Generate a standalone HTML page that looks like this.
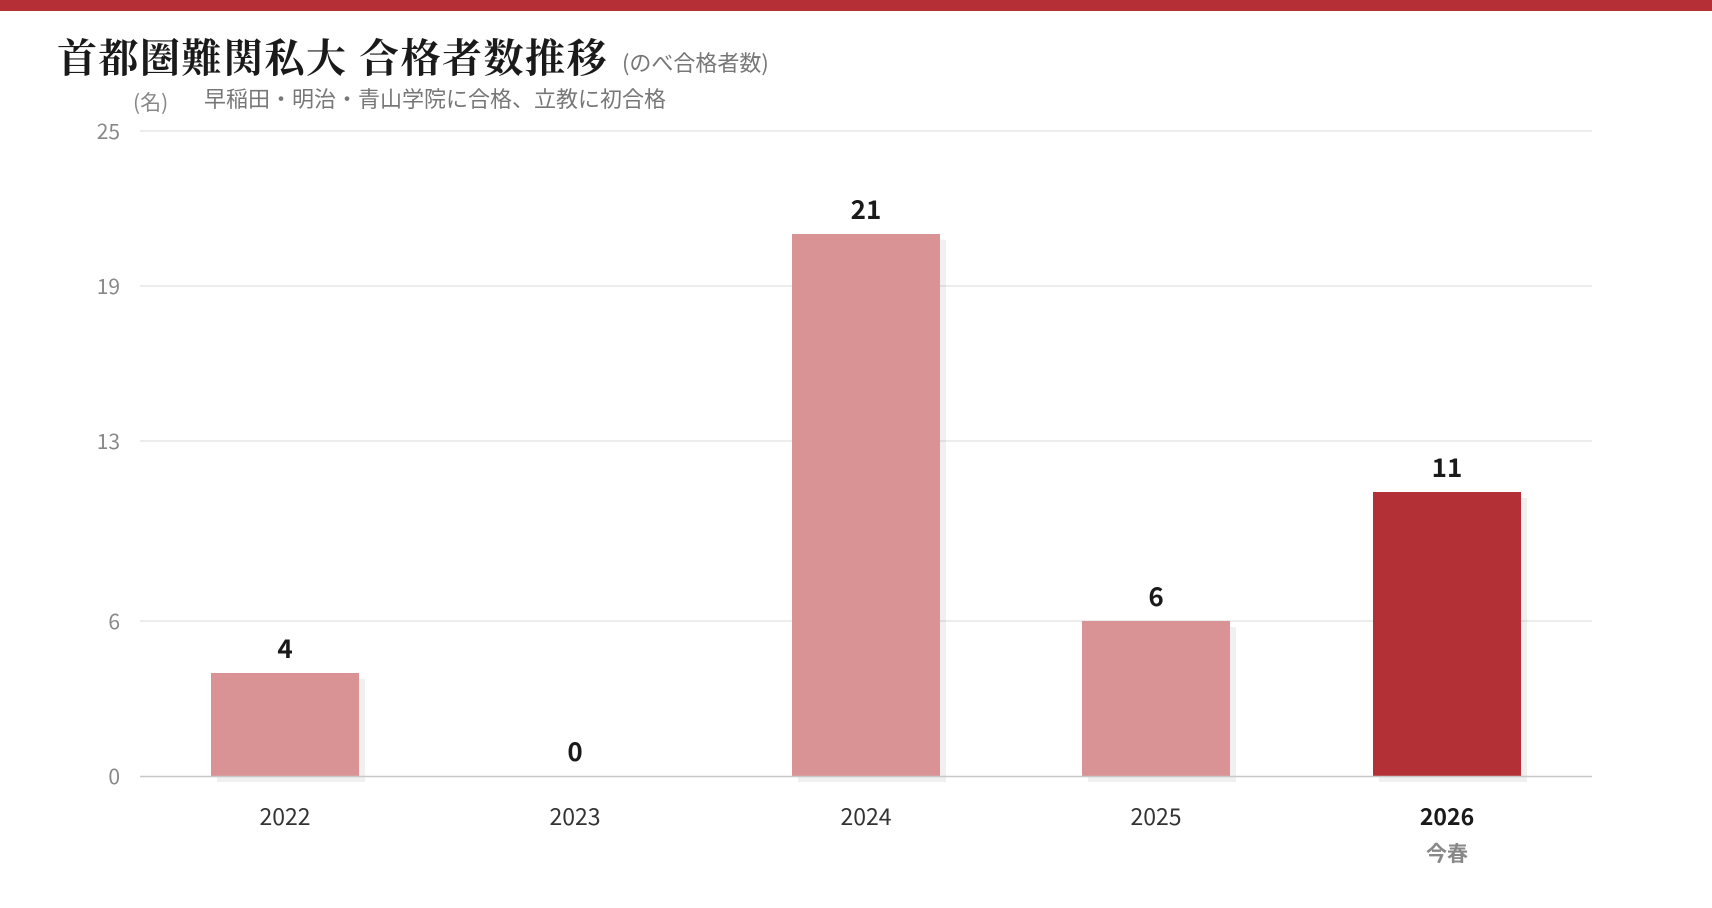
<!DOCTYPE html>
<html><head><meta charset="utf-8"><style>
body{margin:0;width:1712px;height:908px;background:#fff;overflow:hidden;font-family:"Noto Sans CJK JP",sans-serif}
</style></head><body>
<svg width="1712" height="908" xmlns="http://www.w3.org/2000/svg" style="position:absolute;left:0;top:0;font-family:'Noto Sans CJK JP','Liberation Sans',sans-serif">
<rect x="0" y="0" width="1712" height="11" fill="#b53036"/>
<text x="57" y="72" font-family="'Noto Serif CJK SC','Noto Sans CJK JP',serif" font-weight="bold" font-size="40" letter-spacing="1.5" fill="#1a1a1a">首都圏難関私大 合格者数推移</text>
<text x="622" y="71" font-size="22" fill="#777">(のべ合格者数)</text>
<text x="133" y="110" font-size="21" fill="#888">(名)</text>
<text x="204" y="107" font-size="22" fill="#777">早稲田・明治・青山学院に合格、立教に初合格</text>
<g stroke="#e6e6e6" stroke-width="1.5">
<line x1="140" y1="131" x2="1592" y2="131"/>
<line x1="140" y1="286" x2="1592" y2="286"/>
<line x1="140" y1="441" x2="1592" y2="441"/>
<line x1="140" y1="621" x2="1592" y2="621"/>
</g>
<g font-size="21" fill="#888" text-anchor="end">
<text x="120" y="139">25</text>
<text x="120" y="294">19</text>
<text x="120" y="449">13</text>
<text x="120" y="629">6</text>
<text x="120" y="784">0</text>
</g>
<g fill="#000" opacity="0.06">
<rect x="217" y="679" width="148" height="103"/>
<rect x="798" y="240" width="148" height="542"/>
<rect x="1088" y="627" width="148" height="155"/>
<rect x="1379" y="498" width="148" height="284"/>
</g>
<rect x="211" y="673" width="148" height="103" fill="#d99395"/>
<rect x="792" y="234" width="148" height="542" fill="#d99395"/>
<rect x="1082" y="621" width="148" height="155" fill="#d99395"/>
<rect x="1373" y="492" width="148" height="284" fill="#b33036"/>
<line x1="140" y1="776.5" x2="1592" y2="776.5" stroke="#c8c8c8" stroke-width="1.5"/>
<g font-size="26" font-weight="bold" fill="#1a1a1a" text-anchor="middle">
<text x="285" y="658">4</text>
<text x="575" y="761">0</text>
<text x="866" y="219">21</text>
<text x="1156" y="606">6</text>
<text x="1447" y="477">11</text>
</g>
<g font-size="23" fill="#333" text-anchor="middle">
<text x="285" y="825">2022</text>
<text x="575" y="825">2023</text>
<text x="866" y="825">2024</text>
<text x="1156" y="825">2025</text>
<text x="1447" y="825" font-weight="bold" fill="#1a1a1a">2026</text>
<text x="1447" y="861" font-size="21" font-weight="bold" fill="#888">今春</text>
</g>
</svg>
</body></html>
